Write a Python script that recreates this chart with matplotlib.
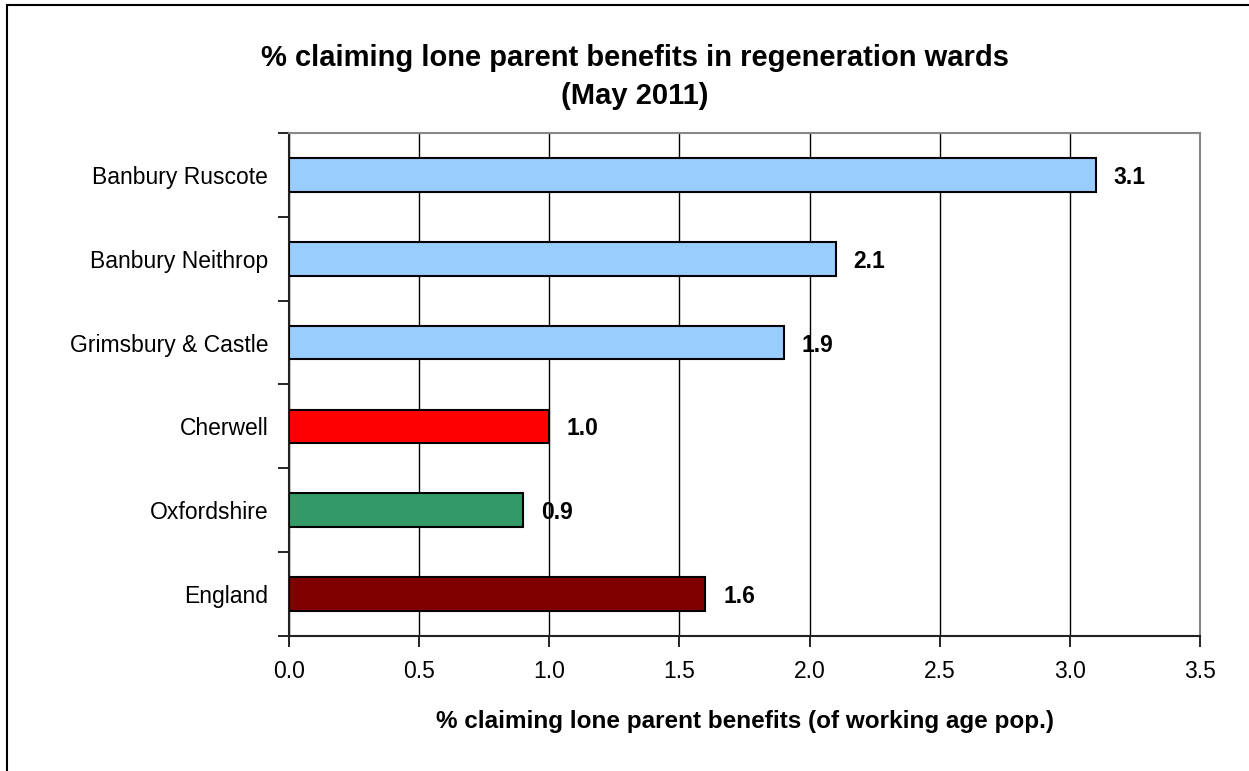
import matplotlib.pyplot as plt
from matplotlib.patches import Rectangle

plt.rcParams["font.family"] = ["Liberation Sans", "DejaVu Sans"]

areas = ["Banbury Ruscote", "Banbury Neithrop", "Grimsbury & Castle",
         "Cherwell", "Oxfordshire", "England"]
values = [3.1, 2.1, 1.9, 1.0, 0.9, 1.6]
colours = ["#99CCFF", "#99CCFF", "#99CCFF", "#FF0000", "#339966", "#800000"]
x_ticks = [0.0, 0.5, 1.0, 1.5, 2.0, 2.5, 3.0, 3.5]

fig = plt.figure(figsize=(12.49, 7.71), dpi=100)
ax = fig.add_axes([289 / 1249, 1 - 636 / 771, 911 / 1249, 503 / 771])

# outer chart border (cut off at right and bottom like the source image)
fig.patches.append(
    Rectangle((7 / 1249, -0.1), 1.2, 1 - 5 / 771 + 0.1,
              transform=fig.transFigure, fill=False,
              edgecolor="black", linewidth=1.5)
)

pos = list(range(len(areas)))[::-1]

ax.barh(pos, values, height=0.4, color=colours,
        edgecolor="black", linewidth=1.5, zorder=3)

for p, v in zip(pos, values):
    ax.text(v + 0.068, p, f"{v:.1f}", va="center_baseline", ha="left",
            fontsize=16.5, fontweight="bold", zorder=4)

ax.set_xlim(0, 3.5)
ax.set_ylim(-0.5, len(areas) - 0.5)
ax.set_xticks(x_ticks)
ax.set_xticklabels([f"{t:.1f}" for t in x_ticks], fontsize=16.5)
ax.xaxis.grid(True, color="black", linewidth=1, zorder=0)

ax.set_yticks(pos)
ax.set_yticklabels(areas, fontsize=16.5)
ax.set_yticks([p - 0.5 for p in range(len(areas) + 1)], minor=True)
ax.tick_params(axis="y", which="major", length=0, pad=15)
ax.tick_params(axis="y", which="minor", length=8, width=1.2, direction="out")
ax.tick_params(axis="x", length=8, width=1.2, direction="out", pad=9)

for s in ["left", "bottom"]:
    ax.spines[s].set_color("#222222")
    ax.spines[s].set_linewidth(1.5)
for s in ["top", "right"]:
    ax.spines[s].set_color("#888888")
    ax.spines[s].set_linewidth(1.5)

ax.set_xlabel("% claiming lone parent benefits (of working age pop.)",
              fontsize=17.5, fontweight="bold", labelpad=20)

fig.text(635 / 1249, 1 - 77 / 771,
         "% claiming lone parent benefits in regeneration wards\n(May 2011)",
         ha="center", va="center", fontsize=21, fontweight="bold",
         linespacing=1.5)

fig.savefig("out.png", dpi=100)
